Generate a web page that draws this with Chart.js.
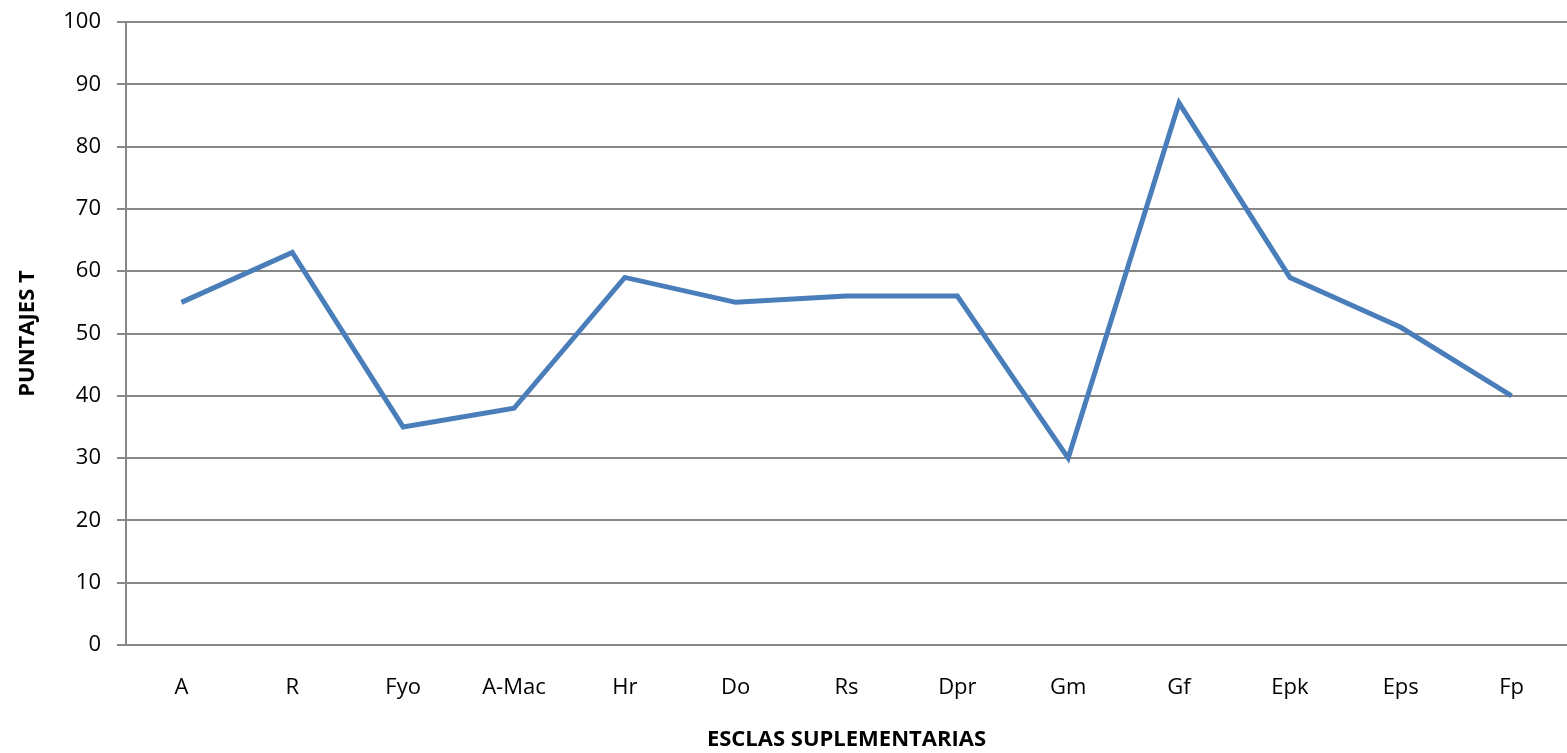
<!DOCTYPE html>
<html>
<head>
<meta charset="utf-8">
<script src="https://cdn.jsdelivr.net/npm/chart.js@4"></script>
<style>
  html, body { margin: 0; padding: 0; background: #fff; }
  #wrap { width: 1567px; height: 753px; }
</style>
</head>
<body>
<div id="wrap"><canvas id="chart"></canvas></div>
<script>
const escalas = ["A", "R", "Fyo", "A-Mac", "Hr", "Do", "Rs", "Dpr", "Gm", "Gf", "Epk", "Eps", "Fp"];
const puntajes = [55, 63, 35, 38, 59, 55, 56, 56, 30, 87, 59, 51, 40];
const yMin = 0;
const yMax = 100;
const yStep = 10;

const gridColor = "#878787";
const textFont = "'Open Sans', 'Liberation Sans', sans-serif";

new Chart(document.getElementById("chart").getContext("2d"), {
    type: "line",
    data: {
        labels: escalas,
        datasets: [
            {
                label: "Puntajes T",
                data: puntajes,
                borderColor: "#4a7ebb",
                borderWidth: 5,
                pointRadius: 0,
                tension: 0,
                fill: false,
            },
        ],
    },
    options: {
        responsive: true,
        maintainAspectRatio: false,
        animation: false,
        layout: { padding: { top: 22, right: 0, left: 0, bottom: 0 } },
        plugins: {
            legend: { display: false },
            tooltip: { enabled: false },
        },
        scales: {
            x: {
                offset: true,
                grid: { display: false, drawTicks: false, offset: true },
                border: { display: true, color: gridColor, width: 2 },
                ticks: {
                    color: "#000",
                    padding: 30,
                    font: { family: textFont, size: 22 },
                    maxRotation: 0,
                    autoSkip: false,
                },
                title: {
                    display: true,
                    text: "ESCLAS SUPLEMENTARIAS",
                    color: "#000",
                    font: { family: textFont, size: 22, weight: "bold" },
                    padding: { top: 0, bottom: 0 },
                },
                afterFit: (scale) => {
                    scale.height = 108;
                    scale.paddingLeft = 0;
                    scale.paddingRight = 0;
                },
            },
            y: {
                min: yMin,
                max: yMax,
                ticks: {
                    stepSize: yStep,
                    color: "#000",
                    padding: 16,
                    font: { family: textFont, size: 22 },
                },
                grid: {
                    color: gridColor,
                    lineWidth: 2,
                    tickLength: 9,
                },
                border: { display: true, color: gridColor, width: 2 },
                title: {
                    display: true,
                    text: "PUNTAJES T",
                    color: "#000",
                    font: { family: textFont, size: 22, weight: "bold" },
                    padding: { top: 15, bottom: 0 },
                },
                afterFit: (scale) => {
                    scale.width = 126;
                    scale.paddingTop = 0;
                    scale.paddingBottom = 0;
                },
            },
        },
    },
});
</script>
</body>
</html>
